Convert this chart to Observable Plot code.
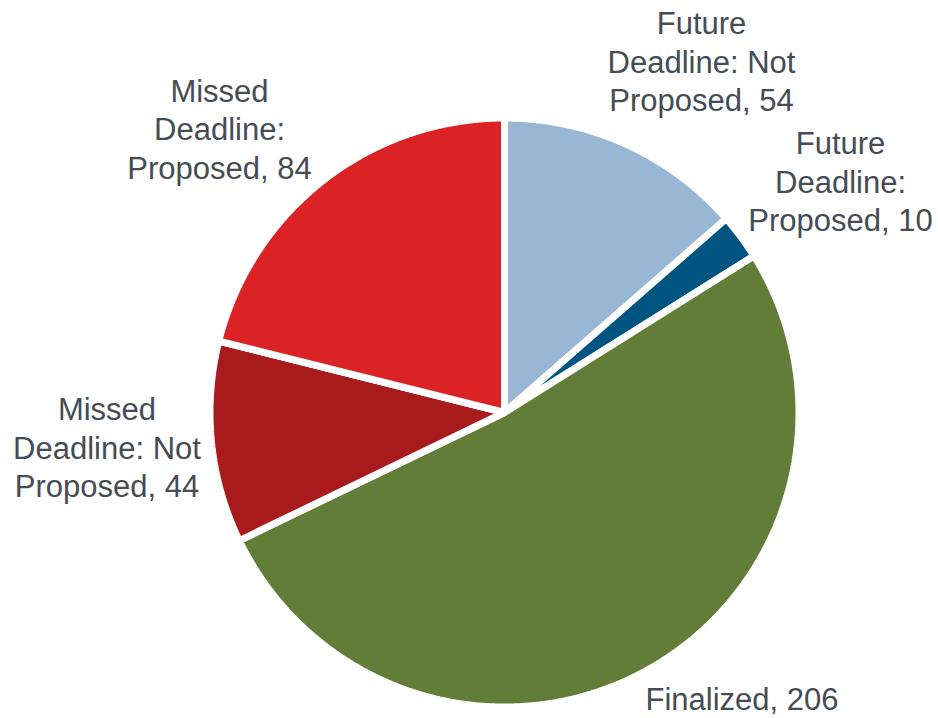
<!DOCTYPE html>
<html><head><meta charset="utf-8">
<script src="https://cdn.jsdelivr.net/npm/d3@7"></script>
<script src="https://cdn.jsdelivr.net/npm/@observablehq/plot@0.6"></script>
<style>body{margin:0;background:#fff}</style>
</head><body><div id="chart"></div>
<script>
// Data
const categories = ["Future Deadline: Not Proposed", "Future Deadline: Proposed", "Finalized", "Missed Deadline: Not Proposed", "Missed Deadline: Proposed"];
const values = [54, 10, 206, 44, 84];
const labelLines = [["Future", "Deadline: Not", "Proposed"], ["Future", "Deadline:", "Proposed"], ["Finalized"], ["Missed", "Deadline: Not", "Proposed"], ["Missed", "Deadline:", "Proposed"]];
const colors = ["#97b7d4", "#005480", "#627d38", "#a81a1b", "#db2325"];

// Layout (pixels in the 938x718 frame)
const W = 938, H = 718, CX = 504, CY = 412, R = 294.5;
const labelPx = [[701, 60], [840, 180], [741.5, 697], [106.5, 446], [219, 127.5]];

const arcs = d3.pie().sort(null).value(d => d)(values);
const pts = [];
arcs.forEach((a, i) => {
  pts.push({cat: categories[i], x: 0, y: 0});
  const n = Math.max(8, Math.ceil((a.endAngle - a.startAngle) / 0.005));
  for (let k = 0; k <= n; k++) {
    const t = a.startAngle + (a.endAngle - a.startAngle) * k / n;
    pts.push({cat: categories[i], x: Math.sin(t), y: Math.cos(t)});
  }
});

const labelData = categories.map((c, i) => {
  const lines = labelLines[i].slice();
  lines[lines.length - 1] = lines[lines.length - 1] + ", " + values[i];
  return {cat: c, text: lines.join("\n"), x: (labelPx[i][0] - CX) / R, y: (CY - labelPx[i][1]) / R};
});

const chart = Plot.plot({
  width: W, height: H,
  marginLeft: CX - R, marginRight: W - CX - R,
  marginTop: CY - R, marginBottom: H - CY - R,
  x: {domain: [-1, 1], axis: null},
  y: {domain: [-1, 1], axis: null},
  color: {domain: categories, range: colors},
  style: {fontFamily: "'Liberation Sans', Arial, sans-serif", background: "white"},
  marks: [
    Plot.line(pts, {x: "x", y: "y", z: "cat", fill: "cat", stroke: "white", strokeWidth: 7, curve: "linear-closed", strokeLinejoin: "miter"}),
    Plot.text(labelData, {x: "x", y: "y", text: "text", fontSize: 31, lineHeight: 1.24, lineAnchor: "middle", textAnchor: "middle", fill: "#454c54"})
  ]
});
document.getElementById("chart").appendChild(chart);
</script>
</body></html>
